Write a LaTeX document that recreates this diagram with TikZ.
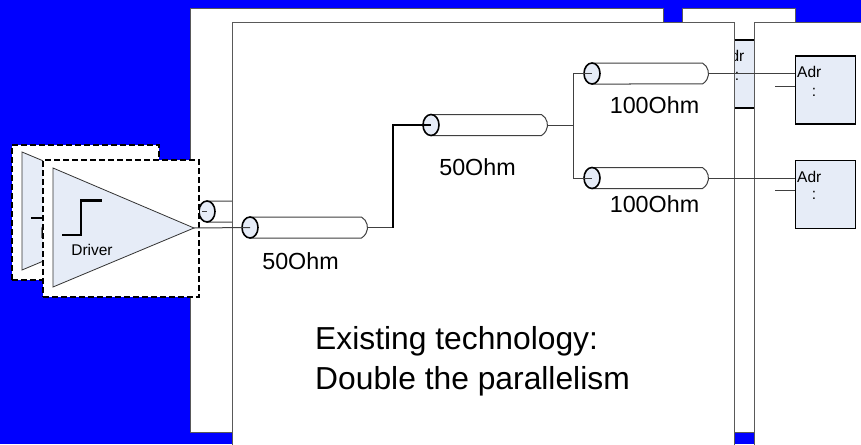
\documentclass[tikz,border=0pt]{standalone}
\usepackage{fontspec}
\setmainfont{Liberation Sans}
\usetikzlibrary{shapes.geometric, shapes.misc}
\definecolor{paleblue}{HTML}{E6ECF7}
\tikzset{
panel/.style={draw=black!65, fill=white, line width=0.8pt, inner sep=0pt, anchor=north west}, % the white sheets
driverbox/.style={draw=black, fill=white, line width=1.6pt, dash pattern=on 6pt off 3pt, inner sep=0pt, anchor=north west},
adrbox/.style={draw=black, fill=paleblue, line width=1.8pt, inner sep=0pt, minimum width=60pt, minimum height=68pt, anchor=north west},
smalltext/.style={inner sep=0pt, font=\fontsize{15.5}{18}\selectfont},
ohm/.style={inner sep=0pt, font=\fontsize{23.3}{28}\selectfont},
coaxbody/.style={rounded rectangle, rounded rectangle left arc=none, rounded rectangle arc length=120, draw=black!75, fill=white, line width=1pt, inner sep=0pt, minimum height=21pt, anchor=west},
coaxend/.style={ellipse, draw=black, fill=paleblue, line width=1.6pt, inner sep=0pt, minimum width=16pt, minimum height=21pt},
wire/.style={draw=black!75, line width=1pt},
thickwire/.style={draw=black, line width=1.5pt},
stepline/.style={draw=black, line width=2.6pt},
triangle/.style={draw=black!80, fill=paleblue, line width=0.8pt},
}

\begin{document}
\begin{tikzpicture}[x=1pt, y=-1pt]
       \clip (0,0) rectangle (861,444);
       \fill[blue] (0,0) rectangle (861,444);

       % sheets at the back
       \node[panel, minimum width=473pt, minimum height=424pt] (backleft) at (190,8) {};
       \node[panel, minimum width=113pt, minimum height=424pt] (backright) at (682,8) {};
       \node[adrbox] (adr0) at (717,39) {};
       \node[smalltext, anchor=west] (adr0text) at (720,56) {Adr};
       \node[smalltext, anchor=center] (adr0dots) at (737,76) {:};

       % coax of the hidden driver
       \node[coaxbody, minimum width=90pt] (coax0) at (207,211.5) {};
       \node[coaxend] (end0) at (coax0.west) {};
       \coordinate (stub0) at (202,211.5);
       \draw[wire] (stub0) -- (end0.center);

       % sheets at the front
       \node[panel, minimum width=502pt, minimum height=430pt] (frontleft) at (232,22) {};
       \node[panel, minimum width=120pt, minimum height=430pt] (frontright) at (754,22) {};

       % hidden driver
       \node[driverbox, minimum width=147pt, minimum height=135pt] (driver0) at (11,144) {};
       \draw[triangle] (22,152) -- (163,211) -- (22,270) -- cycle;
       \draw[stepline] (31,218) -- (50,218) -- (50,183) -- (71,183);
       \node[smalltext] (driver0text) at (61,233) {Driver};

       % driver
       \node[driverbox, minimum width=156pt, minimum height=137pt] (driver) at (42,159) {};
       \draw[triangle] (53,168) -- (194,228) -- (53,287) -- cycle;
       \coordinate (tip) at (194,228);
       \draw[stepline] (62,235) -- (81,235) -- (81,200.5) -- (102,200.5);
       \node[smalltext] (drivertext) at (92,250) {Driver};

       % coax sections
       \node[coaxbody, minimum width=117pt] (coax1) at (250,227.5) {};
       \node[coaxend] (end1) at (coax1.west) {};
       \node[coaxbody, minimum width=116pt] (coax2) at (431,125) {};
       \node[coaxend] (end2) at (coax2.west) {};
       \node[coaxbody, minimum width=116pt] (coax3) at (592,73.5) {};
       \node[coaxend] (end3) at (coax3.west) {};
       \node[coaxbody, minimum width=116pt] (coax4) at (592,178) {};
       \node[coaxend] (end4) at (coax4.west) {};

       % receivers
       \node[adrbox] (adr1) at (794.5,55) {};
       \node[adrbox] (adr2) at (794.5,159.5) {};
       \node[smalltext, anchor=west] (adr1text) at (797,72) {Adr};
       \node[smalltext] (adr1dots) at (814,92) {:};
       \node[smalltext, anchor=west] (adr2text) at (797,177) {Adr};
       \node[smalltext] (adr2dots) at (814,195) {:};
       \coordinate (stub1) at (775,86.5);
       \coordinate (stub2) at (775,190.5);
       \coordinate (split) at (573.5,125);

       \draw[wire] (tip) -- (end1.center);
       \draw[wire] (coax1.east) -- (393,227.5);
       \draw[thickwire] (393,227.5) |- (end2.center);
       \draw[wire] (coax2.east) -- (split);
       \draw[wire] (split) |- (end3.center);
       \draw[wire] (split) |- (end4.center);
       \draw[wire] (coax3.east) -- (adr1.west |- coax3.east);
       \draw[wire] (coax4.east) -- (adr2.west |- coax4.east);
       \draw[wire] (stub1) -- (adr1.west |- stub1);
       \draw[wire] (stub2) -- (adr2.west |- stub2);

       % labels
       \node[ohm] (ohm1) at (300.5,261) {50Ohm};
       \node[ohm] (ohm2) at (477.5,167) {50Ohm};
       \node[ohm] (ohm3) at (654.5,105) {100Ohm};
       \node[ohm] (ohm4) at (654.5,204) {100Ohm};
       \node[inner sep=0pt, anchor=west, align=left, font=\fontsize{31.8}{40}\selectfont] (caption) at (315,361) {Existing technology:\\Double the parallelism};
\end{tikzpicture}
\end{document}
